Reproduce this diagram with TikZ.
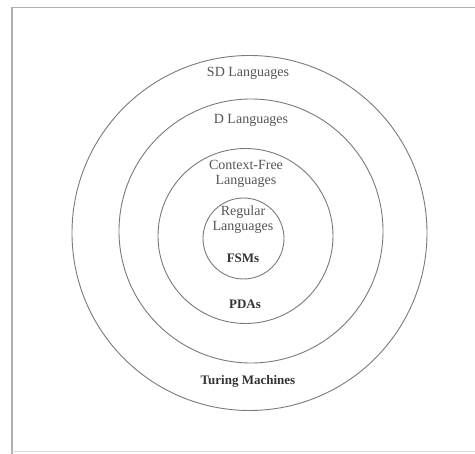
\documentclass[tikz,border=0pt]{standalone}
\usepackage{fontspec}
\setmainfont{Liberation Serif}
\definecolor{ringc}{HTML}{7A7A7A}
\definecolor{txtc}{HTML}{555555}
\definecolor{boldc}{HTML}{333333}
\definecolor{framec}{HTML}{B0B0B0}
\tikzset{
  ring/.style={circle, draw=ringc, line width=0.9pt, inner sep=0pt},
  lbl/.style={text=txtc, font=\fontsize{14}{15}\selectfont, align=center, inner sep=0pt},
  blbl/.style={text=boldc, font=\fontsize{13}{15}\selectfont\bfseries, align=center, inner sep=0pt},
}
\begin{document}
\begin{tikzpicture}[x=1pt,y=-1pt]
\useasboundingbox (0,0) rectangle (475,454);
\fill[white] (0,0) rectangle (475,454);
% frame
\draw[framec, line width=1.6pt] (475,7.5) -- (12,7.5) -- (12,454);
\draw[framec!40, line width=0.8pt] (12,451.5) -- (475,451.5);
% rings
\node[ring, minimum size=355pt] (sd) at (249.5,233) {};
\node[ring, minimum size=264pt] (d) at (251,231) {};
\node[ring, minimum size=175pt] (cf) at (245.5,236) {};
\node[ring, minimum size=81pt] (reg) at (243.5,238.5) {};
% labels
\node[lbl] (sdl) at (248,73) {SD Languages};
\node[lbl] (dl) at (251,120) {D Languages};
\node[lbl] (cfl) at (246,173.5) {Context-Free\\Languages};
\node[lbl] (rl) at (243,219.5) {Regular\\Languages};
\node[blbl] (fsm) at (243,258) {FSMs};
\node[blbl] (pda) at (245,304) {PDAs};
\node[blbl] (tm) at (248,381) {Turing Machines};
\end{tikzpicture}
\end{document}
